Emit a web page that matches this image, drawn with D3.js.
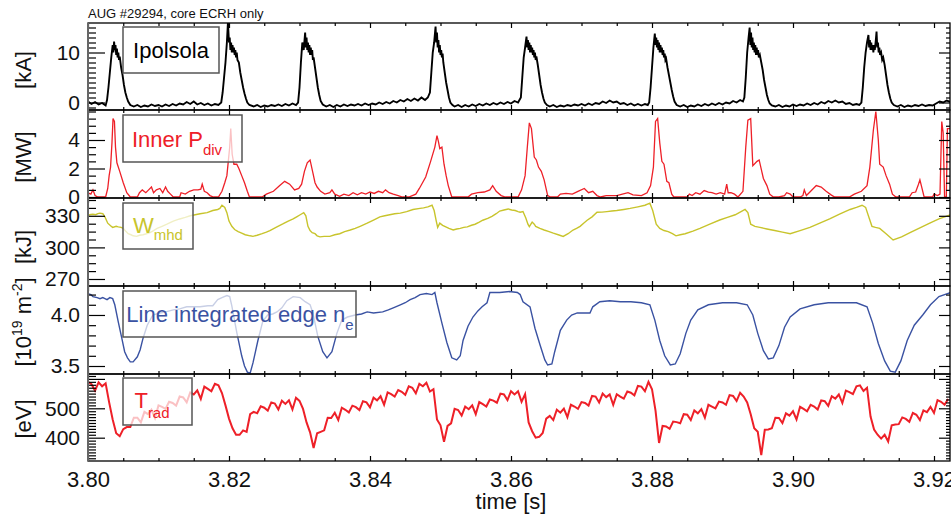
<!DOCTYPE html>
<html><head><meta charset="utf-8">
<script src="https://cdn.jsdelivr.net/npm/d3@7"></script>
<style>body{margin:0;background:#fff}svg{display:block}</style>
</head><body><svg id="c" width="951" height="517"></svg>
<script>
// ---------- DATA (time in ms after 3.800 s) ----------
const ipolsola = [[0,0.2],[0.5,-0.3],[1,0.1],[1.5,-0.4],[2,-0.1],[2.5,-0.6],
[2.7,0.5],[2.9,3],[3.1,6],[3.3,9],[3.5,11.5],[3.6,10],[3.7,12.2],[3.8,10.5],[3.9,11.5],[4.0,9.5],[4.1,10.8],[4.2,9],[4.3,10],[4.4,8.5],[4.5,9.2],[4.7,7],[4.9,5.5],[5.1,3.5],[5.3,2],[5.5,1],[5.7,0.2],[6.0,-0.5],
[6.5,-0.8],[7,-0.5],[7.5,-0.9],[8,-0.6],[8.5,-0.8],[9,-0.4],[9.5,-0.7],[10,-0.5],[10.5,-0.8],[11,-0.4],[11.5,-0.7],[12,-0.3],[12.5,-0.6],[13,-0.2],[13.5,-0.4],[14,0.1],[14.5,-0.3],[15,0.2],[15.5,-0.4],[16,-0.1],[16.5,-0.5],[17,-0.2],[17.5,-0.6],[18,-0.3],[18.5,-0.5],
[18.9,0],[19.1,2],[19.3,5],[19.5,8],[19.7,12],[19.85,16],[20.0,12],[20.1,13],[20.2,10.5],[20.3,12],[20.4,10],[20.5,11.5],[20.6,10],[20.7,11],[20.8,9.5],[20.9,10.5],[21.0,9],[21.1,10],[21.2,8.5],[21.4,8],[21.6,6],[21.8,4.5],[22.0,3],[22.2,1.8],[22.4,0.8],[22.6,0],[22.9,-0.5],
[23.5,-0.8],[24,-0.5],[24.5,-0.9],[25,-0.6],[25.5,-0.8],[26,-0.5],[26.5,-0.7],[27,-0.4],[27.5,-0.7],[28,-0.3],[28.5,-0.6],[29,-0.2],[29.5,-0.5],
[29.8,0],[30.0,3],[30.2,8],[30.4,12],[30.6,10.5],[30.8,14],[30.9,11],[31.0,13],[31.1,10.5],[31.2,12],[31.3,10],[31.4,11.5],[31.5,9.5],[31.6,11],[31.7,9.5],[31.8,10.5],[31.9,8.5],[32.0,9],[32.2,7],[32.4,5],[32.6,3],[32.8,1.5],[33.0,0.3],[33.3,-0.4],
[33.8,-0.8],[34.3,-0.5],[34.8,-0.9],[35.3,-0.5],[35.8,-0.8],[36.3,-0.4],[36.8,-0.7],[37.3,-0.4],[37.8,-0.6],[38.3,-0.3],[38.8,-0.6],[39.3,-0.2],[39.8,-0.5],[40.3,-0.2],[40.8,-0.4],[41.3,0],[41.8,-0.3],[42.3,0.1],[42.8,-0.2],[43.3,0.3],[43.8,0],[44.3,0.5],[44.8,0.2],[45.3,0.7],[45.8,0.3],[46.3,0.8],[46.8,0.4],[47.3,1.0],[47.8,0.5],[48.2,1],
[48.5,2],[48.7,6],[48.9,10],[49.1,12],[49.3,15.2],[49.4,12],[49.5,14],[49.6,11],[49.7,12.5],[49.8,10],[49.9,11.5],[50.0,9.5],[50.1,10.5],[50.2,9],[50.3,9.8],[50.4,8],[50.6,6],[50.8,4],[51.0,2.5],[51.2,1],[51.4,0],[51.7,-0.5],
[52,-0.8],[52.5,-0.5],[53,-0.9],[53.5,-0.5],[54,-0.8],[54.5,-0.4],[55,-0.7],[55.5,-0.3],[56,-0.6],[56.5,-0.2],[57,-0.5],[57.5,-0.1],[58,-0.4],[58.5,0],[59,-0.3],[59.5,0.1],[60,-0.2],[60.5,0.3],[61,0],
[61.4,1],[61.6,5],[61.8,9],[62.0,11],[62.2,13.2],[62.3,11],[62.4,12.5],[62.5,10.5],[62.6,12],[62.7,10],[62.8,11.5],[62.9,10],[63.0,11],[63.1,9.5],[63.2,10.5],[63.3,9],[63.4,10],[63.5,8.5],[63.6,9.2],[63.8,7.5],[64.0,5.5],[64.2,3.5],[64.4,2],[64.6,0.8],[64.8,0],[65.1,-0.5],
[65.5,-0.8],[66,-0.5],[66.5,-0.9],[67,-0.6],[67.5,-0.8],[68,-0.5],[68.5,-0.7],[69,-0.4],[69.5,-0.6],[70,-0.3],[70.5,-0.6],[71,-0.2],[71.5,-0.5],[72,-0.1],[72.5,-0.3],[73,0.2],[73.5,-0.1],[74,0.4],[74.5,0],[75,0.2],[75.5,-0.3],[76,-0.1],[76.5,-0.5],[77,-0.2],[77.5,-0.6],[78,-0.3],[78.5,-0.6],[79,-0.3],[79.4,-0.5],
[79.6,0],[79.8,3],[80.0,7],[80.2,11],[80.4,13.8],[80.5,11.5],[80.6,13],[80.7,11],[80.8,12.5],[80.9,10.5],[81.0,12],[81.1,10],[81.2,11.5],[81.3,10],[81.4,11],[81.5,9.5],[81.6,10.5],[81.7,9],[81.8,9.8],[81.9,8.5],[82.0,8.8],[82.2,7],[82.4,5.5],[82.6,4],[82.8,2.5],[83.0,1.2],[83.2,0.2],[83.5,-0.5],
[84,-0.8],[84.5,-0.5],[85,-0.9],[85.5,-0.6],[86,-0.8],[86.5,-0.4],[87,-0.7],[87.5,-0.3],[88,-0.6],[88.5,-0.2],[89,-0.5],[89.5,-0.1],[90,-0.4],[90.5,0],[91,-0.2],[91.5,0.3],[92,0],[92.5,0.5],[92.9,0.2],
[93.1,1],[93.3,5],[93.5,10],[93.7,13],[93.85,15],[93.95,11.5],[94.05,14],[94.15,11],[94.25,13],[94.35,10.5],[94.45,12],[94.55,10],[94.65,11.5],[94.75,9.5],[94.85,11],[94.95,9.5],[95.05,10.5],[95.15,9],[95.3,9.5],[95.5,8],[95.7,6.5],[95.9,4.5],[96.1,3],[96.3,1.5],[96.5,0.5],[96.7,-0.2],[97,-0.6],
[97.5,-0.8],[98,-0.5],[98.5,-0.9],[99,-0.6],[99.5,-0.8],[100,-0.4],[100.5,-0.7],[101,-0.4],[101.5,-0.6],[102,-0.2],[102.5,-0.5],[103,-0.1],[103.5,-0.4],[104,0.1],[104.5,-0.2],[105,0.3],[105.5,0],[106,0.4],[106.5,0],[107,0.2],[107.5,-0.3],[108,-0.1],[108.5,-0.5],[109,-0.3],[109.4,-0.5],
[109.7,0],[109.9,3],[110.1,7],[110.3,10],[110.5,12],[110.7,13.5],[110.8,11],[110.9,12.5],[111.0,10.5],[111.1,12],[111.2,10.5],[111.3,11.5],[111.4,10],[111.5,11.5],[111.6,10.5],[111.75,12.5],[111.85,14.2],[111.95,11],[112.05,12],[112.15,10],[112.25,11],[112.35,9.5],[112.5,10],[112.65,8.5],[112.8,9],[113.0,7.5],[113.2,5.5],[113.4,3.5],[113.6,2],[113.8,0.8],[114.0,0],[114.3,-0.5],
[114.8,-0.8],[115.3,-0.5],[115.8,-0.9],[116.3,-0.6],[116.8,-0.8],[117.3,-0.5],[117.8,-0.7],[118.3,-0.4],[118.8,-0.7],[119.3,-0.5],[119.8,-0.6],[120.3,-0.2],[120.8,0.2],[121.3,0],[121.8,0.4],[122.4,0.1]];

const pdiv = [[0,0.3],[0.4,0.2],[0.7,0.5],[1.0,0.1],[1.4,0],[2.5,0],[2.8,0.6],[3.0,1.5],[3.2,2.1],[3.4,3.8],[3.55,5.5],[3.75,5.3],[3.9,3.5],[4.1,2.4],[4.5,1.8],[5.0,1.0],[5.5,0.3],[6.0,0],
[7.0,0],[7.3,0.3],[7.7,0.5],[8.2,0.3],[8.6,0.5],[9.0,0.7],[9.3,0.3],[9.7,0.5],[10.2,0.6],[10.6,0.3],[11.0,0.7],[11.3,0.4],[11.7,0.2],[12.1,0],
[13.0,0],[13.2,0.3],[13.8,0.2],[14.4,0.4],[15.0,0.5],[15.6,0.5],[16.0,0.55],[16.2,0.9],[16.5,0.4],[16.9,0.3],[17.3,0.1],[17.8,0],
[18.5,0],[19.0,0.4],[19.4,1.0],[19.7,1.5],[19.9,2.5],[20.1,3.5],[20.25,4.8],[20.45,3.0],[20.7,2.3],[21.1,2.3],[21.4,2.0],[21.8,1.5],[22.2,1.0],[22.6,0.4],[22.9,0],
[24.7,0],[25.3,0.2],[26.3,0.4],[27.2,0.8],[27.9,1.1],[28.6,0.9],[29.3,0.5],[29.9,0.6],[30.3,0.9],[30.7,1.8],[31.1,2.4],[31.5,2.6],[31.9,1.7],[32.2,1.0],[32.5,0.7],[33.0,0.4],[33.6,0.2],[34.3,0.3],[34.6,0.5],[35.0,0.2],[35.7,0.05],
[36.3,0.2],[37.0,0.1],[37.6,0.3],[38.2,0.15],[38.8,0.3],[39.4,0.2],[40.0,0.35],[40.6,0.25],[41.2,0.4],[41.8,0.3],[42.2,0.5],[42.7,0.3],[43.3,0.2],[44.0,0.1],[44.6,0],
[45.5,0],[46.5,0.2],[47.0,0.6],[47.9,1.4],[48.6,2.5],[49.2,3.5],[49.5,4.3],[49.7,3.9],[49.9,3.4],[50.2,3.5],[50.5,2.3],[50.8,1.5],[51.1,0.8],[51.6,0],
[53.9,0],[54.4,0.2],[55.3,0.3],[56.2,0.35],[57.0,0.5],[57.4,0.8],[57.9,0.4],[58.6,0.1],[59.2,0],
[61.0,0],[61.5,0.5],[62.0,1.5],[62.3,3.4],[62.6,5.2],[62.9,4.8],[63.3,2.8],[63.6,2.6],[63.9,2.1],[64.3,1.8],[64.7,1.2],[65.2,0.1],[65.6,0],
[66.6,0],[67.0,0.2],[67.8,0.25],[68.7,0.2],[69.5,0.4],[70.4,0.6],[71.0,0.3],[71.6,0.4],[72.2,0.1],[72.7,0],[73.5,0.1],[75.0,0.1],[75.8,0.2],[76.6,0.3],[77.3,0.15],[78.5,0.1],[79.3,0.3],
[79.8,0.8],[80.2,2.1],[80.5,5.3],[80.8,5.5],[81.1,3.8],[81.4,2.5],[81.7,2.3],[82.1,1.1],[82.4,1.0],[82.8,0.2],[83.1,0],
[85.0,0],[85.3,0.2],[85.7,0.1],[86.2,0.3],[86.8,0.2],[87.4,0.45],[88.0,0.35],[88.5,0.3],[89.1,0.2],[89.7,0.3],[90.3,0.2],[90.6,0.9],[90.8,0.3],[91.2,0.3],[91.7,0.2],[92.2,0],
[92.9,0.4],[93.3,3.5],[93.6,5.4],[94.0,5.5],[94.3,2.2],[94.9,2.5],[95.2,2.6],[95.8,1.3],[96.3,0.8],[96.7,0.2],[97.2,0],
[98.0,0],[98.8,0.1],[99.1,0.3],[99.6,0.2],[100.0,0],[101.0,0],[101.4,0.1],[101.6,0.5],[101.9,0.1],[102.4,0.35],[103.3,0.8],[104.0,0.7],[104.7,0.4],[105.4,0.15],[105.9,0],[107.0,0],
[108.0,0],[108.7,0.2],[109.7,0.4],[110.5,0.8],[110.9,2.1],[111.4,4.7],[111.75,6.0],[112.1,4.0],[112.3,2.3],[112.8,2.1],[113.2,1.5],[113.7,0.9],[114.1,0.2],[114.6,0],
[116.5,0],[116.9,0.3],[117.4,0.35],[117.8,0.9],[118.0,1.2],[118.3,0.6],[118.6,0],[119.8,0],[120.0,0.2],[120.5,0.1],[120.85,0.2],[121.1,5.3],[121.3,4.5],[121.5,0],[121.75,0],[121.9,4.8],[122.4,4.8]];

const wmhd = [[0,330.5],[0.4,331.2],[0.7,331.5],[1.1,331],[1.4,332],[1.7,332.5],[2.1,332],[2.4,329],[2.8,323],[3.2,320.5],[3.5,319],[4.0,320],[4.3,319.5],[4.7,319],[5.0,318],[5.4,315],[5.7,313],[6.1,312],[6.4,311],[6.9,310.5],[7.3,311.5],[7.8,312],[8.3,313],[8.8,314],[9.3,316],[9.8,318],[10.5,320],[11.2,322],[12.1,325],[13.0,327],[13.8,328.5],[14.5,330],[15.2,331],[15.9,332],[16.9,333],[17.7,335],[18.4,336],[18.7,337],[19.0,340],[19.4,338],[19.7,333],[20.0,325],[20.4,320],[20.8,317],[21.3,315],[21.8,313.5],[22.3,312],[23.0,311],[23.4,310.5],[24.0,311.5],[24.7,313],[25.3,314.5],[25.8,316],[26.8,319.5],[27.7,322.5],[28.4,325],[29.1,327],[29.6,329],[30.1,331],[30.6,333],[30.9,330],[31.2,320],[31.5,316],[31.8,314],[32.2,313],[32.5,311],[32.9,310],[33.5,310.5],[34.3,310.5],[35.0,312],[35.7,313],[36.4,315],[37.2,316.5],[37.9,318],[38.6,320],[39.6,323],[40.5,326],[41.4,329],[42.1,330],[42.8,331],[43.5,332],[44.3,332.5],[45.2,334],[46.1,336],[47.1,337],[47.6,337.5],[48.2,338.5],[48.8,340],[49.1,335],[49.4,325],[49.6,319],[49.9,323],[50.3,321],[50.6,320],[51.2,318],[51.8,316.5],[52.3,317.5],[52.8,318],[53.3,319],[53.8,319.5],[54.4,321],[54.9,322],[55.5,324],[56.0,325.8],[56.7,327.5],[57.3,329.5],[57.9,332],[58.4,334.5],[59.0,335.5],[59.6,336.5],[60.1,335.5],[60.6,335],[61.0,334],[61.3,333.4],[61.7,334],[62.1,328],[62.4,322],[62.6,319.7],[63.0,324],[63.3,322],[63.5,320],[64.1,318],[64.7,316.5],[65.4,315],[66.0,313.5],[66.7,312],[67.4,310.4],[68.1,313],[68.8,316.5],[69.3,318],[69.8,320],[70.3,323],[70.8,325.8],[71.5,329],[72.2,333.4],[72.9,333.5],[73.6,334],[74.3,334.5],[75.0,335],[76.0,336],[76.9,337],[78.0,338.5],[79.0,340],[79.7,342],[80.1,335],[80.6,322],[81.1,318],[81.7,316],[82.3,315],[82.9,313],[83.4,311],[84.0,312],[84.7,313],[85.8,315.5],[86.8,318],[88.2,322],[89.6,326],[90.7,328.5],[91.8,331],[92.5,333.5],[93.2,336],[93.6,333],[94.0,322],[94.6,320],[95.3,319],[96.3,317.5],[97.4,316],[98.5,314.5],[99.6,313],[101.0,316],[102.4,319],[103.8,323],[105.2,327],[106.6,331.5],[108.1,336],[109.0,338],[109.8,340],[110.3,338],[110.8,328],[111.2,320],[111.7,319],[112.3,318],[113.2,313],[114.2,307],[115.4,310],[116.6,314],[118.0,318.5],[119.4,323],[120.7,327],[122.4,331]];

const neEdge = [[0,4.21],[0.4,4.2],[0.7,4.18],[1.3,4.17],[1.7,4.16],[2.1,4.17],[2.4,4.16],[2.7,4.15],[3.1,4.17],[3.5,4.16],[3.8,4.1],[4.3,3.93],[4.8,3.77],[5.2,3.64],[5.6,3.58],[6.0,3.54],[6.4,3.54],[7.0,3.59],[7.4,3.66],[7.8,3.77],[8.4,3.9],[9.2,4.0],[10.2,4.02],[11.0,4.03],[12.1,4.05],[13.0,4.06],[14.0,4.08],[15.9,4.08],[17.0,4.09],[17.7,4.09],[18.4,4.15],[19.0,4.17],[19.7,4.19],[20.1,4.18],[20.4,4.09],[21.1,3.83],[21.8,3.6],[22.2,3.5],[22.6,3.44],[23.0,3.43],[23.4,3.53],[24.1,3.75],[24.8,3.94],[25.5,4.0],[26.2,4.01],[26.8,4.03],[27.5,4.07],[28.2,4.14],[29.1,4.18],[30.1,4.17],[30.8,4.13],[31.5,4.1],[31.9,4.02],[32.6,3.79],[33.3,3.64],[33.9,3.58],[34.6,3.64],[35.3,3.82],[36.0,3.95],[36.8,3.98],[37.9,4.0],[38.8,4.01],[39.6,4.03],[40.5,4.02],[41.8,4.03],[42.6,4.05],[43.3,4.07],[44.3,4.1],[45.0,4.12],[45.7,4.15],[46.4,4.17],[47.1,4.2],[48.0,4.21],[48.8,4.2],[49.2,4.22],[49.5,4.12],[50.2,3.92],[50.9,3.73],[51.6,3.58],[52.3,3.56],[52.8,3.6],[53.2,3.75],[53.9,3.89],[54.6,3.98],[55.3,4.04],[55.9,4.08],[56.6,4.12],[57.0,4.22],[58.4,4.22],[59.8,4.23],[60.9,4.22],[61.3,4.2],[61.7,4.13],[62.7,4.08],[63.4,3.87],[64.1,3.71],[64.8,3.56],[65.2,3.51],[65.8,3.52],[66.2,3.64],[67.0,3.85],[67.9,3.95],[68.6,4.0],[69.4,4.02],[71.2,4.02],[71.6,4.08],[72.6,4.13],[74.0,4.14],[75.5,4.13],[77,4.13],[78.5,4.12],[79.7,4.1],[80.4,3.95],[81.1,3.75],[81.8,3.6],[82.6,3.51],[83.3,3.52],[84.0,3.62],[84.8,3.82],[85.5,3.95],[86.5,4.05],[88,4.1],[90,4.12],[92,4.12],[93.5,4.1],[94.3,4.0],[95.0,3.82],[95.8,3.65],[96.5,3.57],[97.2,3.58],[98.0,3.7],[98.8,3.88],[99.6,3.98],[101,4.06],[103,4.1],[105,4.12],[107,4.12],[109,4.12],[110.5,4.08],[111.3,3.92],[112.1,3.72],[113,3.55],[113.8,3.45],[114.5,3.44],[115.3,3.55],[116.2,3.75],[117.2,3.9],[118.4,4.0],[119.5,4.1],[120.7,4.18],[122.4,4.22]];

// T_rad sampled every 0.5 ms from 3.800 s
const tradStepMs = 0.5;
const trad = [590,582,560,588,575,585,520,462,415,405,
429,436,436,468,468,452,488,480,495,467,
510,505,498,522,518,509,540,537,520,554,
547,561,532,574,566,558,583,578,552,510,
465,432,410,410,425,420,480,488,483,507,
502,492,520,516,496,526,515,527,496,536,
525,498,452,418,365,415,420,425,468,467,
485,460,502,495,486,509,504,494,524,520,
503,536,527,541,512,554,548,540,562,556,
546,575,570,551,583,575,587,557,565,462,
442,386,440,449,498,494,475,506,497,510,
480,521,514,506,530,526,519,550,547,528,
558,547,558,522,548,452,422,400,403,416,
465,474,460,495,485,499,470,512,506,498,
521,518,509,542,540,520,550,538,547,512,
548,540,533,557,553,544,576,574,558,590,
565,492,382,440,438,430,455,453,449,480,
478,460,493,483,497,468,512,506,500,523,
520,512,545,542,525,553,540,520,480,432,
420,341,427,428,432,468,467,450,483,475,
490,462,505,498,490,512,506,496,527,524,
508,541,533,547,518,560,555,548,575,578,
559,570,472,428,410,397,410,387,442,445,
446,469,464,454,484,478,460,493,487,505,
484,528,522,512,532];

const ipolTicks=[0,10], pdivTicks=[0,2,4], wTicks=[270,300,330], neTicks=[3.5,4.0], tradTicks=[400,500,600];
const ipolLabels=["0","10"], pdivLabels=["0","2","4"], wLabels=["270","300","330"], neLabels=["3.5","4.0"], tradLabels=["400","500",""];
const timeTicks=[3.80,3.82,3.84,3.86,3.88,3.90,3.92];
const timeLabels=["3.80","3.82","3.84","3.86","3.88","3.90","3.92"];
const titleText="AUG #29294, core ECRH only";
const xTitle="time [s]";

// ---------- DRAWING ----------
const FONT='"Liberation Sans", Arial, sans-serif';
const svg=d3.select("#c");
const X0=88, X1=950;
const x=d3.scaleLinear().domain([3.8, 3.8+(X1-X0)/7050]).range([X0,X1]);
const tSec=ms=>3.8+ms/1000;

const panels=[
 {top:23,bot:110,dom:[-1.5,15.9],major:ipolTicks,labels:ipolLabels,minor:d3.range(-1,16,1),
  data:ipolsola.map(d=>[tSec(d[0]),d[1]]),color:"#000",lw:1.9},
 {top:110,bot:198,dom:[-0.07,6.105],major:pdivTicks,labels:pdivLabels,minor:d3.range(0,6.01,0.5),
  data:pdiv.map(d=>[tSec(d[0]),d[1]]),color:"#ee2028",lw:1.3},
 {top:198,bot:286,dom:[263.35,346.9],major:wTicks,labels:wLabels,minor:d3.range(270,346,7.5),
  data:wmhd.map(d=>[tSec(d[0]),d[1]]),color:"#c8c42c",lw:1.4},
 {top:286,bot:374,dom:[3.4216,4.284],major:neTicks,labels:neLabels,minor:d3.range(3.5,4.29,0.1),
  data:neEdge.map(d=>[tSec(d[0]),d[1]]),color:"#3a52a2",lw:1.4},
 {top:374,bot:461,dom:[320.7,616.7],major:tradTicks,labels:tradLabels,minor:d3.range(330,611,10),
  data:trad.map((v,i)=>[tSec(i*tradStepMs),v]),color:"#ee2028",lw:2}
];

const defs=svg.append("defs");
panels.forEach((p,i)=>{
  p.y=d3.scaleLinear().domain(p.dom).range([p.bot,p.top]);
  defs.append("clipPath").attr("id","cp"+i).append("rect")
    .attr("x",X0).attr("y",p.top).attr("width",X1-X0).attr("height",p.bot-p.top);
  const line=d3.line().x(d=>x(d[0])).y(d=>p.y(d[1]));
  svg.append("path").datum(p.data).attr("clip-path","url(#cp"+i+")")
    .attr("d",line).attr("fill","none").attr("stroke",p.color)
    .attr("stroke-width",p.lw).attr("stroke-linejoin","miter");
});

// legend boxes
const legends=[
 {x:123,y:27,w:96,h:46,parts:[["Ipolsola",22,0]],tx:171,ty:58,color:"#000"},
 {x:123,y:115,w:119,h:47,parts:[["Inner P",22,0],["div",15,8]],tx:177,ty:147,color:"#ee2028"},
 {x:123,y:203,w:70,h:46,parts:[["W",22,0],["mhd",15,7]],tx:158,ty:233,color:"#c8c42c"},
 {x:123,y:291,w:233,h:46,parts:[["Line integrated edge n",22,0],["e",15,8]],tx:240,ty:322,color:"#3a52a2"},
 {x:123,y:378,w:69,h:47,parts:[["T",22,0],["rad",15,10]],tx:152,ty:408,color:"#ee2028"}
];
legends.forEach(L=>{
  svg.append("rect").attr("x",L.x).attr("y",L.y).attr("width",L.w).attr("height",L.h)
    .attr("fill","#fff").attr("fill-opacity",0.72).attr("stroke","#555").attr("stroke-width",1.5);
  const t=svg.append("text").attr("x",L.tx).attr("y",L.ty).attr("text-anchor","middle")
    .attr("font-family",FONT).attr("fill",L.color);
  let prev=0;
  L.parts.forEach(([s,fs,dy])=>{
    t.append("tspan").attr("font-size",fs).attr("dy",dy-prev).text(s); prev=dy;
  });
});

// axes
panels.forEach((p,i)=>{
  const minorOnly=p.minor.filter(v=>!p.major.some(m=>Math.abs(m-v)<1e-6));
  const style=g=>{g.select(".domain").remove();g.attr("font-family",FONT).attr("font-size",21);
    g.selectAll("line").attr("stroke","#000").attr("stroke-width",1.2);};
  svg.append("g").attr("transform",`translate(${X0},0)`)
    .call(d3.axisLeft(p.y).tickValues(p.major).tickSize(-17).tickPadding(8).tickFormat((d,j)=>p.labels[j]))
    .call(style).selectAll("text").attr("fill","#111");
  svg.append("g").attr("transform",`translate(${X0},0)`)
    .call(d3.axisLeft(p.y).tickValues(minorOnly).tickSize(-8).tickFormat("")).call(style);
  svg.append("g").attr("transform",`translate(${X1},0)`)
    .call(d3.axisRight(p.y).tickValues(p.major).tickSize(-11).tickFormat("")).call(style);
  svg.append("g").attr("transform",`translate(${X1},0)`)
    .call(d3.axisRight(p.y).tickValues(minorOnly).tickSize(-4).tickFormat("")).call(style);
  const minorX=d3.range(3.805,3.9225,0.005).filter(v=>!timeTicks.some(m=>Math.abs(m-v)<1e-6));
  svg.append("g").attr("transform",`translate(0,${p.top})`)
    .call(d3.axisTop(x).tickValues(timeTicks).tickSize(-5).tickFormat("")).call(style);
  svg.append("g").attr("transform",`translate(0,${p.top})`)
    .call(d3.axisTop(x).tickValues(minorX).tickSize(-3).tickFormat("")).call(style);
  const bx=svg.append("g").attr("transform",`translate(0,${p.bot})`)
    .call(d3.axisBottom(x).tickValues(timeTicks).tickSize(-5).tickPadding(10)
      .tickFormat((d,j)=>i===panels.length-1?timeLabels[j]:"")).call(style);
  bx.attr("font-size",22).selectAll("text").attr("fill","#111");
  svg.append("g").attr("transform",`translate(0,${p.bot})`)
    .call(d3.axisBottom(x).tickValues(minorX).tickSize(-3).tickFormat("")).call(style);
  svg.append("rect").attr("x",X0).attr("y",p.top).attr("width",X1-X0).attr("height",p.bot-p.top)
    .attr("fill","none").attr("stroke","#000").attr("stroke-width",1.3);
});
svg.append("line").attr("x1",X0).attr("x2",X0).attr("y1",23).attr("y2",461)
  .attr("stroke","#666").attr("stroke-width",2);

// y titles
const yTitles=[{cy:70,parts:[["[kA]",22,0]]},{cy:157,parts:[["[MW]",22,0]]},{cy:247,parts:[["[kJ]",22,0]]},
 {cy:322,parts:[["[10",22,0],["19",14,-9],[" m",22,0],["-2",14,-9],["]",22,0]]},{cy:419,parts:[["[eV]",22,0]]}];
yTitles.forEach(T=>{
  const t=svg.append("text").attr("transform",`translate(31,${T.cy}) rotate(-90)`)
    .attr("text-anchor","middle").attr("font-family",FONT).attr("fill","#111");
  let prev=0;
  T.parts.forEach(([s,fs,dy])=>{t.append("tspan").attr("font-size",fs).attr("dy",dy-prev).text(s);prev=dy;});
});

svg.append("text").attr("x",88).attr("y",18).attr("font-family",FONT).attr("font-size",13)
  .attr("fill","#111").text(titleText);
svg.append("text").attr("x",(x(3.80)+x(3.92))/2).attr("y",509).attr("text-anchor","middle")
  .attr("font-family",FONT).attr("font-size",22).attr("fill","#111").text(xTitle);
</script></body></html>
